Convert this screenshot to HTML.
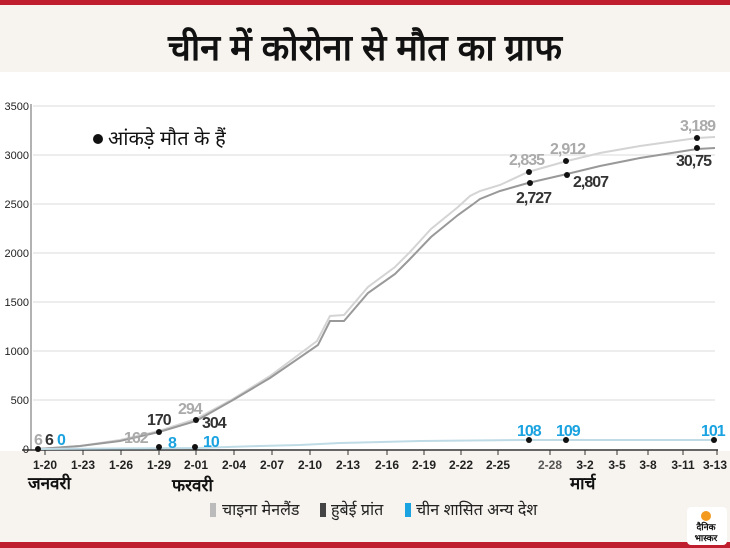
<!DOCTYPE html>
<html><head><meta charset="utf-8"><style>
html,body{margin:0;padding:0;width:730px;height:548px;overflow:hidden;background:#fff}
svg{display:block}
text{font-family:"Liberation Sans","Noto Sans CJK SC",sans-serif}
.n{font-family:"Liberation Sans Narrow","Liberation Sans",sans-serif;font-weight:bold;letter-spacing:-1px}
.t{font-family:"Liberation Sans Narrow","Liberation Sans",sans-serif;font-weight:bold;font-size:12px;fill:#222}
.y{font-family:"Liberation Serif",serif;font-size:11px;fill:#222}
</style></head><body>
<svg width="730" height="548" viewBox="0 0 730 548">
<rect x="0" y="0" width="730" height="548" fill="#fff"/>
<rect x="0" y="0" width="730" height="5" fill="#be1e2d"/>
<rect x="0" y="5" width="730" height="67" fill="#f7f3ee"/>
<text x="365" y="60" text-anchor="middle" font-size="36" font-weight="bold" fill="#111">चीन में कोरोना से मौत का ग्राफ</text>
<rect x="0" y="451" width="730" height="91" fill="#f7f3ee"/>
<rect x="0" y="542" width="730" height="6" fill="#be1e2d"/>
<g stroke="#e2e2e2" stroke-width="1.2">
<line x1="33" y1="106" x2="715" y2="106"/><line x1="33" y1="155" x2="715" y2="155"/>
<line x1="33" y1="204" x2="715" y2="204"/><line x1="33" y1="253" x2="715" y2="253"/>
<line x1="33" y1="302" x2="715" y2="302"/><line x1="33" y1="351" x2="715" y2="351"/>
<line x1="33" y1="400" x2="715" y2="400"/>
</g>
<line x1="31" y1="104" x2="31" y2="450" stroke="#999" stroke-width="1.5"/>
<line x1="22" y1="450" x2="718" y2="450" stroke="#333" stroke-width="1.5"/>
<g class="y" text-anchor="end">
<text x="29" y="110">3500</text><text x="29" y="159">3000</text><text x="29" y="208">2500</text>
<text x="29" y="257">2000</text><text x="29" y="306">1500</text><text x="29" y="355">1000</text>
<text x="29" y="404">500</text><text x="29" y="453">0</text>
</g>
<g stroke="#333" stroke-width="1">
<line x1="45" y1="450" x2="45" y2="455"/><line x1="83" y1="450" x2="83" y2="455"/><line x1="121" y1="450" x2="121" y2="455"/>
<line x1="159" y1="450" x2="159" y2="455"/><line x1="196" y1="450" x2="196" y2="455"/><line x1="234" y1="450" x2="234" y2="455"/>
<line x1="272" y1="450" x2="272" y2="455"/><line x1="310" y1="450" x2="310" y2="455"/><line x1="348" y1="450" x2="348" y2="455"/>
<line x1="387" y1="450" x2="387" y2="455"/><line x1="424" y1="450" x2="424" y2="455"/><line x1="461" y1="450" x2="461" y2="455"/>
<line x1="498" y1="450" x2="498" y2="455"/><line x1="550" y1="450" x2="550" y2="455"/><line x1="585" y1="450" x2="585" y2="455"/>
<line x1="617" y1="450" x2="617" y2="455"/><line x1="648" y1="450" x2="648" y2="455"/><line x1="683" y1="450" x2="683" y2="455"/>
<line x1="717" y1="450" x2="717" y2="455"/>
</g>
<g class="t" text-anchor="middle">
<text x="45" y="469">1-20</text><text x="83" y="469">1-23</text><text x="121" y="469">1-26</text>
<text x="159" y="469">1-29</text><text x="196" y="469">2-01</text><text x="234" y="469">2-04</text>
<text x="272" y="469">2-07</text><text x="310" y="469">2-10</text><text x="348" y="469">2-13</text>
<text x="387" y="469">2-16</text><text x="424" y="469">2-19</text><text x="461" y="469">2-22</text>
<text x="498" y="469">2-25</text><text x="550" y="469" fill="#555">2-28</text><text x="585" y="469">3-2</text>
<text x="617" y="469">3-5</text><text x="648" y="469">3-8</text><text x="683" y="469">3-11</text><text x="715" y="469">3-13</text>
</g>
<g font-size="17" font-weight="bold" fill="#111">
<text x="28" y="489">जनवरी</text><text x="172" y="491">फरवरी</text><text x="570" y="489">मार्च</text>
</g>
<polyline fill="none" stroke="#d4d4d4" stroke-width="2" points="38,449 80,446 120,440 159,431 196,419 233,399 270,376 317,341 330,316 344,315 368,287 395,267 409,253 431,229 458,207 470,196 480,191 500,185 528,172 567,161 600,153 640,146 697,138 715,137"/>
<polyline fill="none" stroke="#999" stroke-width="2" points="38,449 80,446 120,441 159,432 196,421 233,400 270,378 318,345 330,321 344,321 368,293 395,274 409,260 431,237 458,215 472,205 480,199 500,191 528,183 567,174 600,166 640,158 697,149 715,148"/>
<polyline fill="none" stroke="#bfdbe6" stroke-width="2" points="38,449 196,448 260,446 300,445 340,443 420,441 528,440 715,440"/>
<g fill="#111">
<circle cx="38" cy="449" r="3"/><circle cx="159" cy="432" r="3"/><circle cx="196" cy="420" r="3"/>
<circle cx="159" cy="447" r="3"/><circle cx="195" cy="447" r="3"/>
<circle cx="529" cy="172" r="3"/><circle cx="530" cy="183" r="3"/><circle cx="566" cy="161" r="3"/><circle cx="567" cy="175" r="3"/>
<circle cx="697" cy="138" r="3"/><circle cx="697" cy="148" r="3"/>
<circle cx="529" cy="440" r="3"/><circle cx="566" cy="440" r="3"/><circle cx="714" cy="440" r="3"/>
<circle cx="98" cy="139" r="5"/>
</g>
<text x="108" y="145" font-size="20" fill="#111">आंकड़े मौत के हैं</text>
<g class="n" font-size="16">
<text x="34" y="445" fill="#aaa">6</text><text x="45" y="445" fill="#333">6</text><text x="57" y="445" fill="#1aa3e0">0</text>
<text x="124" y="443" fill="#aaa">162</text><text x="147" y="425" fill="#333">170</text><text x="168" y="448" fill="#1aa3e0">8</text>
<text x="178" y="414" fill="#aaa">294</text><text x="202" y="428" fill="#333">304</text><text x="203" y="447" fill="#1aa3e0">10</text>
<text x="509" y="165" fill="#aaa">2,835</text><text x="516" y="203" fill="#333">2,727</text>
<text x="550" y="154" fill="#aaa">2,912</text><text x="573" y="187" fill="#333">2,807</text>
<text x="680" y="131" fill="#aaa">3,189</text><text x="676" y="166" fill="#333">30,75</text>
<text x="517" y="436" fill="#1aa3e0">108</text><text x="556" y="436" fill="#1aa3e0">109</text><text x="701" y="436" fill="#1aa3e0">101</text>
</g>
<rect x="210" y="503" width="6" height="14" fill="#bbb"/>
<text x="222" y="515" font-size="16" fill="#222">चाइना मेनलैंड</text>
<rect x="320" y="503" width="6" height="14" fill="#444"/>
<text x="331" y="515" font-size="16" fill="#222">हुबेई प्रांत</text>
<rect x="405" y="503" width="6" height="14" fill="#1aa3e0"/>
<text x="416" y="515" font-size="16" fill="#222">चीन शासित अन्य देश</text>
<rect x="687" y="507" width="40" height="38" rx="4" fill="#fff"/>
<circle cx="706" cy="516" r="5" fill="#f39a1e"/>
<text x="706" y="530" text-anchor="middle" font-size="9" font-weight="bold" fill="#111">दैनिक</text>
<text x="706" y="541" text-anchor="middle" font-size="9" font-weight="bold" fill="#111">भास्कर</text>
</svg>
</body></html>
